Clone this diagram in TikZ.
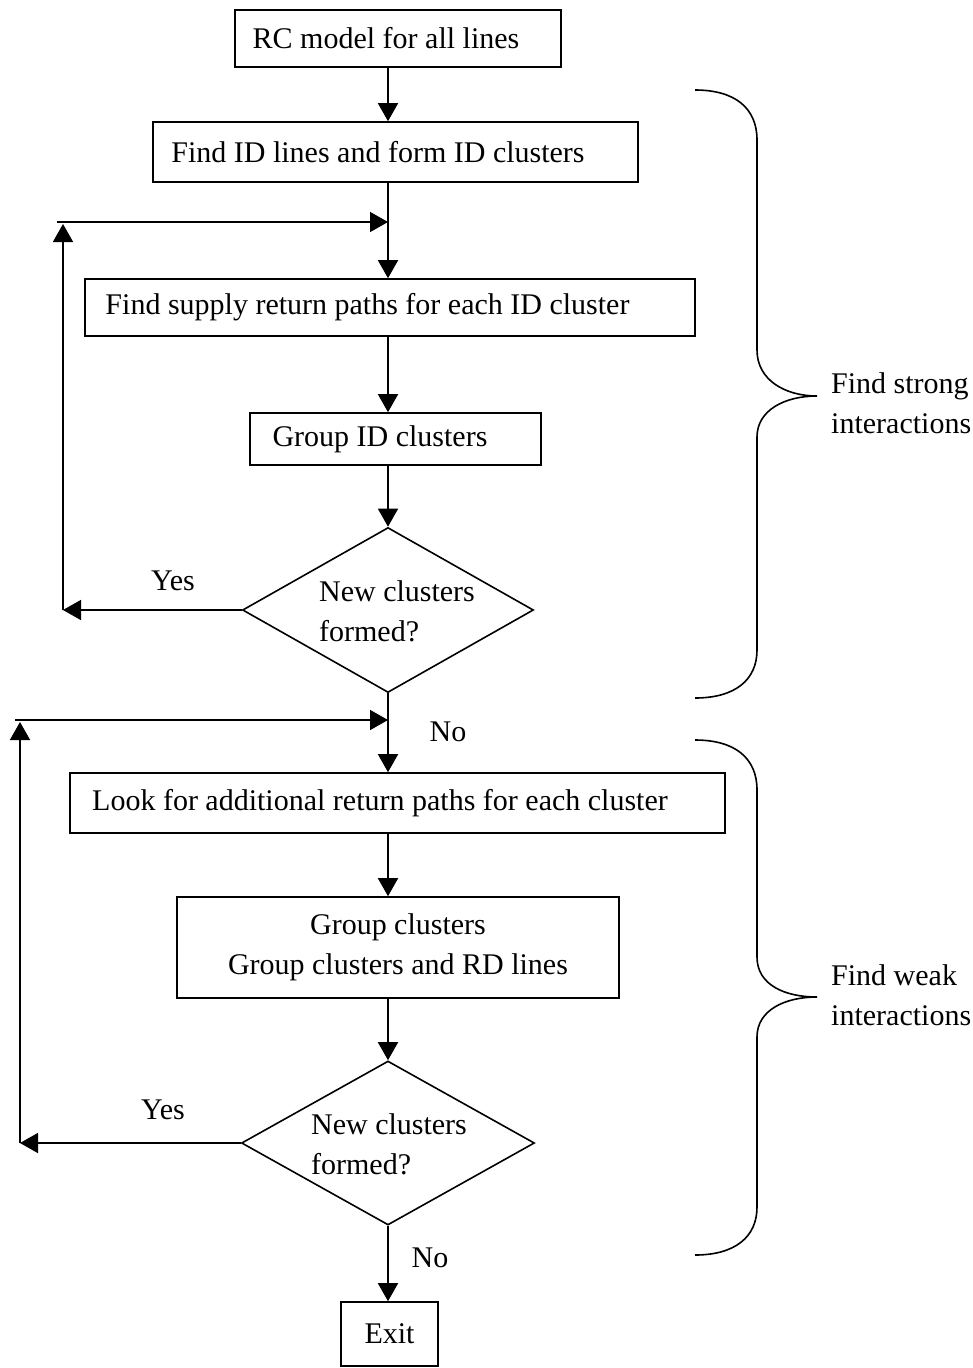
\documentclass[tikz,border=0pt]{standalone}
\usepackage{fontspec}
\setmainfont{Liberation Serif}
\usetikzlibrary{shapes.geometric,arrows.meta,calc}
\begin{document}
\begin{tikzpicture}[x=1pt,y=-1pt,
  font=\fontsize{30}{40}\selectfont,
  flow/.style={draw, line width=1.6pt, -{Triangle[length=18pt,width=20pt]}},
  bracepath/.style={draw, line width=1.6pt},
  stepbox/.style={draw, rectangle, line width=1.6pt, inner sep=0pt},
  decision/.style={draw, diamond, line width=1.6pt, inner sep=0pt},
  tag/.style={inner sep=0pt}
]
\useasboundingbox (0,0) rectangle (973,1368);
\coordinate (spine) at (388,0);

% process boxes (text sits a little left of centre)
\node[stepbox, minimum width=326pt, minimum height=57pt] (rc) at (398,38.5) {RC model for all lines\hspace*{24pt}};
\node[stepbox, minimum width=485pt, minimum height=60pt] (id) at (395.5,152) {Find ID lines and form ID clusters\hspace*{35pt}};
\node[stepbox, minimum width=610pt, minimum height=57pt] (sr) at (390,307.5) {Find supply return paths for each ID cluster\hspace*{45pt}};
\node[stepbox, minimum width=291pt, minimum height=52pt] (gid) at (395.5,439) {Group ID clusters\hspace*{31pt}};
\node[decision, minimum width=291pt, minimum height=165pt,
      label={[xshift=9pt,yshift=-3pt]center:{\begin{tabular}{@{}l@{}}New clusters\\formed?\end{tabular}}}] (d1) at (388,610) {};

\node[stepbox, minimum width=655pt, minimum height=60pt] (la) at (397.5,803) {Look for additional return paths for each cluster\hspace*{35pt}};
\node[stepbox, minimum width=442pt, minimum height=101pt, align=center] (gc) at (398,947.5) {Group clusters\\Group clusters and RD lines};
\node[decision, minimum width=293pt, minimum height=164pt,
      label={[xshift=1pt,yshift=-3pt]center:{\begin{tabular}{@{}l@{}}New clusters\\formed?\end{tabular}}}] (d2) at (388,1143) {};
\node[stepbox, minimum width=97pt, minimum height=64pt] (exit) at (389.5,1334) {Exit};

% branch labels
\node[tag] (yes1) at (173,581) {Yes};
\node[tag] (no1) at (448,732) {No};
\node[tag] (yes2) at (163,1110) {Yes};
\node[tag] (no2) at (430,1258) {No};

% main flow
\draw[flow] (spine |- rc.south) -- (spine |- id.north);
\draw[flow] (spine |- id.south) -- (spine |- sr.north);
\draw[flow] (spine |- sr.south) -- (spine |- gid.north);
\draw[flow] (spine |- gid.south) -- (d1.north);
\draw[flow] (d1.south) -- (spine |- la.north);
\draw[flow] (spine |- la.south) -- (spine |- gc.north);
\draw[flow] (spine |- gc.south) -- (d2.north);
\draw[flow] (d2.south) -- (spine |- exit.north);

% first feedback loop
\coordinate (l1b) at (63,610);
\coordinate (l1t) at (63,224);
\coordinate (l1h) at (57,222);
\draw[flow] (d1.west) -- (l1b);
\draw[flow] (l1b) -- (l1t);
\draw[flow] (l1h) -- (spine |- l1h);

% second feedback loop
\coordinate (l2b) at (20,1143);
\coordinate (l2t) at (20,722);
\coordinate (l2h) at (15,720);
\draw[flow] (d2.west) -- (l2b);
\draw[flow] (l2b) -- (l2t);
\draw[flow] (l2h) -- (spine |- l2h);

% braces grouping the two phases
\draw[bracepath] (695,90) .. controls (735,90) and (757,108) .. (757,140)
  -- (757,350) .. controls (757,380) and (785,396) .. (817,396)
  .. controls (785,396) and (757,410) .. (757,437)
  -- (757,650) .. controls (757,680) and (735,698) .. (695,698);
\node[tag, anchor=west, align=left] (strong) at (831,403) {Find strong\\interactions};

\draw[bracepath] (695,740) .. controls (735,740) and (757,758) .. (757,790)
  -- (757,957) .. controls (757,985) and (785,997) .. (817,997)
  .. controls (785,997) and (757,1010) .. (757,1037)
  -- (757,1207) .. controls (757,1237) and (735,1255) .. (695,1255);
\node[tag, anchor=west, align=left] (weak) at (831,995) {Find weak\\interactions};
\end{tikzpicture}
\end{document}
